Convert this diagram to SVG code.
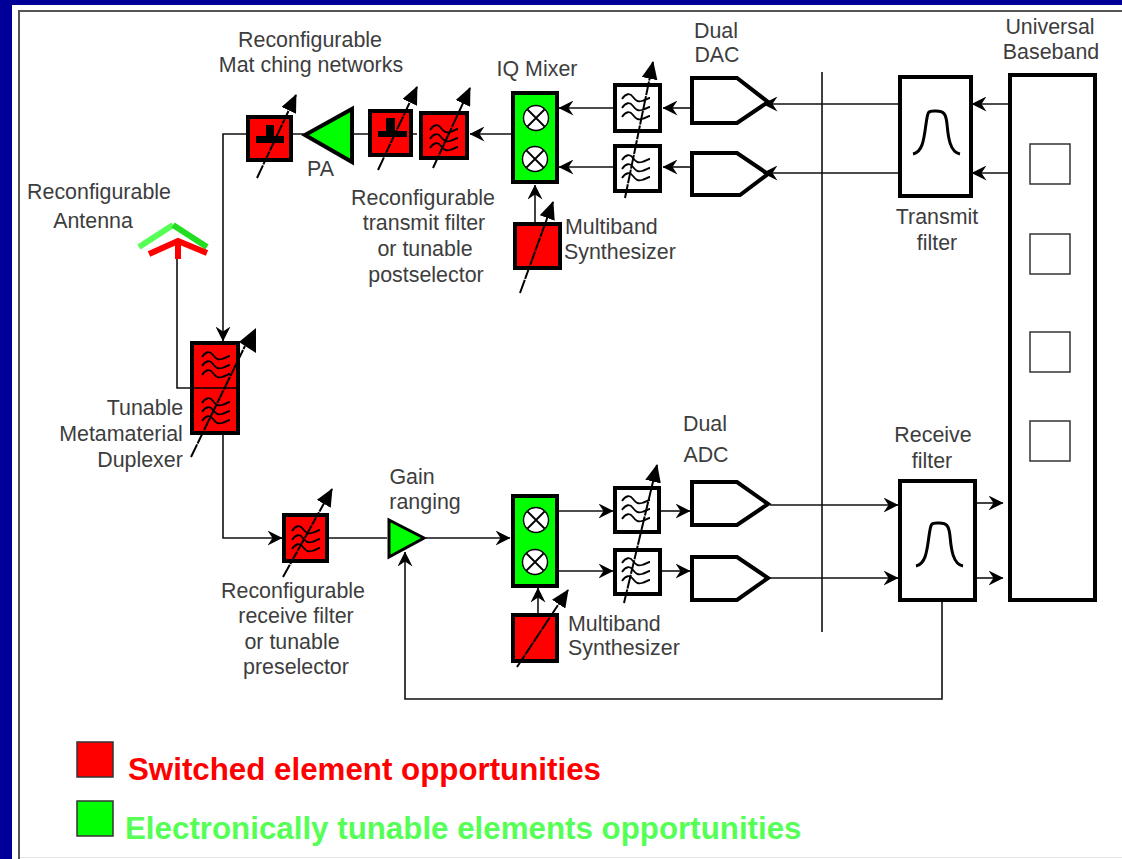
<svg xmlns="http://www.w3.org/2000/svg" width="1122" height="859" viewBox="0 0 1122 859">
<style>
text{font-family:"Liberation Sans",Arial,sans-serif;font-size:21.400px;fill:#3d3d3d}
.c{text-anchor:middle}
.w{fill:#fff;stroke:#000;stroke-width:4}
.r{fill:#f00;stroke:#000;stroke-width:4}
.g{fill:#0f0;stroke:#000;stroke-width:4}
.l{fill:none;stroke:#111;stroke-width:1.600}
.t{fill:none;stroke:#000;stroke-width:2;stroke-dasharray:14 1}
.f{fill:none;stroke:#000;stroke-width:1.800}
.m{fill:#fff;stroke:#000;stroke-width:1.400}
.leg{font-size:31.300px;font-weight:bold}
</style>
<defs>
<marker id="a" viewBox="0 0 15 15" refX="14.500" refY="7.500" markerWidth="15" markerHeight="15" markerUnits="userSpaceOnUse" orient="auto"><path d="M0 0L15 7.500L0 15L5 7.500Z" fill="#000"/></marker>
<marker id="b" viewBox="0 0 18 16" refX="17" refY="8" markerWidth="18" markerHeight="16" markerUnits="userSpaceOnUse" orient="auto"><path d="M0 0L18 8L0 16Z" fill="#000"/></marker>
<g id="ripple"><path class="f" d="M-14-7C-10-13-6-13-3-9S2-4 6-5 12-8 14-8M-14 2C-10-4-6-4-3 0S2 5 6 4 12 1 14 1M-14 11C-10 5-6 5-3 9S2 14 6 13 12 10 14 10"/></g>
<g id="mix"><circle r="12.500" class="m"/><path d="M-8.500-8.500L8.500 8.500M8.500-8.500L-8.500 8.500" stroke="#000" stroke-width="1.800"/></g>
<path id="bump" d="M-23 22C-13 20-12 6-10-8S-8-21 0-21 10-18 11-8 13 20 24 22" fill="none" stroke="#000" stroke-width="3"/>
</defs>
<rect width="1122" height="859" fill="#000099"/>
<rect x="12" y="5" width="1110" height="854" fill="#fff"/>
<path d="M19 859V11H1122" fill="none" stroke="#555" stroke-width="2"/>
<path d="M20 857.500H1122" fill="none" stroke="#e4e4e4" stroke-width="1"/>

<g id="antenna"><path d="M139 247L173 225" fill="none" stroke="#5f5" stroke-width="6"/><path d="M173 225L207 247" fill="none" stroke="#2d2" stroke-width="6"/><path d="M149 254L178 241L207 253" fill="none" stroke="#f00" stroke-width="6"/><path d="M178 241V259" stroke="#f00" stroke-width="6"/></g>

<g id="match1"><rect class="r" x="248" y="117" width="43" height="43"/><path d="M266 125H274V136H284V143H256V136H266Z" fill="#000"/><path class="t" d="M257 178L296 95" marker-end="url(#b)"/></g>
<g id="pa"><path class="g" d="M305 135L352 109V162Z"/></g>
<g id="match2"><rect class="r" x="370" y="111" width="41" height="44"/><path d="M386 118H395V131H407V137H378V131H386Z" fill="#000"/><path class="t" d="M378 170L417 87" marker-end="url(#b)"/></g>
<g id="txfilter"><rect class="r" x="421" y="113" width="46" height="45"/><use href="#ripple" x="444" y="137"/><path class="t" d="M433 168L470 88" marker-end="url(#b)"/></g>
<g id="iqtx"><rect class="g" x="513" y="93" width="44" height="89"/><use href="#mix" x="536" y="118"/><use href="#mix" x="535" y="159"/></g>
<g id="bbf1"><rect class="w" x="615" y="85" width="45" height="46"/><use href="#ripple" x="636" y="106"/></g>
<g id="bbf2"><rect class="w" x="615" y="146" width="45" height="45"/><use href="#ripple" x="636" y="167"/></g>
<path class="t" d="M625 198L653 62" marker-end="url(#b)"/>
<g id="dac1"><path class="w" d="M692 78H737L768 102L737 123H692Z"/></g>
<g id="dac2"><path class="w" d="M692 153H737L768 174L740 195H692Z"/></g>
<g id="synthtx"><rect class="r" x="515" y="224" width="45" height="44"/><path class="t" d="M520 293L553 202" marker-end="url(#b)"/></g>
<g id="txbp"><rect class="w" x="900" y="77" width="71" height="119"/><use href="#bump" x="936" y="132"/></g>
<g id="baseband"><rect class="w" x="1010" y="75" width="85" height="525"/>
<rect x="1030" y="144" width="40" height="40" fill="#fff" stroke="#333" stroke-width="1.500"/>
<rect x="1030" y="234" width="40" height="40" fill="#fff" stroke="#333" stroke-width="1.500"/>
<rect x="1030" y="332" width="40" height="40" fill="#fff" stroke="#333" stroke-width="1.500"/>
<rect x="1030" y="421" width="40" height="40" fill="#fff" stroke="#333" stroke-width="1.500"/></g>
<g id="duplexer"><rect class="r" x="192" y="343" width="46" height="90"/><path d="M192 388H238" stroke="#000" stroke-width="1.500"/><use href="#ripple" x="216" y="364"/><use href="#ripple" x="216" y="410"/><path class="t" d="M191 457L245 346"/><path d="M256 328V353L239 342Z" fill="#000"/></g>
<g id="rxfilter"><rect class="r" x="284" y="515" width="43" height="46"/><use href="#ripple" x="306" y="538"/><path class="t" d="M283 577L332 489" marker-end="url(#b)"/></g>
<g id="lna"><path d="M389 520L424 538L389 557Z" fill="#0f0" stroke="#000" stroke-width="3"/></g>
<g id="iqrx"><rect class="g" x="513" y="496" width="44" height="90"/><use href="#mix" x="536" y="520"/><use href="#mix" x="535" y="562"/></g>
<g id="adcf1"><rect class="w" x="615" y="488" width="44" height="44"/><use href="#ripple" x="636" y="508"/></g>
<g id="adcf2"><rect class="w" x="615" y="550" width="45" height="44"/><use href="#ripple" x="636" y="570"/></g>
<path class="t" d="M624 603L657 465" marker-end="url(#b)"/>
<g id="adc1"><path class="w" d="M692 482H737L768 504L737 525H692Z"/></g>
<g id="adc2"><path class="w" d="M692 557H737L768 578L737 600H692Z"/></g>
<g id="synthrx"><rect class="r" x="513" y="615" width="44" height="46"/><path class="t" d="M517 667L568 590" marker-end="url(#b)"/></g>
<g id="rxbp"><rect class="w" x="900" y="481" width="75" height="119"/><use href="#bump" x="939" y="544"/></g>

<g id="connectors">
<path class="l" d="M246 134H223V341" marker-end="url(#a)"/>
<path class="l" d="M177 259V388H192"/>
<path class="l" d="M223 435V538H282" marker-end="url(#a)"/>
<path class="l" d="M329 538H387"/><path class="l" d="M426 538H510" marker-end="url(#a)"/>
<path class="l" d="M293 134H304M353 134H368M413 134H417"/>
<path class="l" d="M511 134H470" marker-end="url(#a)"/>
<path class="l" d="M613 108H559" marker-end="url(#a)"/>
<path class="l" d="M613 167H559" marker-end="url(#a)"/>
<path class="l" d="M690 108H663" marker-end="url(#a)"/>
<path class="l" d="M690 167H663" marker-end="url(#a)"/>
<path class="l" d="M898 104H763" marker-end="url(#a)"/>
<path class="l" d="M898 173H763" marker-end="url(#a)"/>
<path class="l" d="M1008 104H972" marker-end="url(#a)"/>
<path class="l" d="M1008 173H972" marker-end="url(#a)"/>
<path class="l" d="M535 222V185" marker-end="url(#a)"/>
<path class="l" d="M559 511H613" marker-end="url(#a)"/>
<path class="l" d="M559 571H613" marker-end="url(#a)"/>
<path class="l" d="M661 511H690" marker-end="url(#a)"/>
<path class="l" d="M662 571H690" marker-end="url(#a)"/>
<path class="l" d="M770 505H898" marker-end="url(#a)"/>
<path class="l" d="M770 578H898" marker-end="url(#a)"/>
<path class="l" d="M977 503H1003" marker-end="url(#a)"/>
<path class="l" d="M977 578H1003" marker-end="url(#a)"/>
<path class="l" d="M538 613V588" marker-end="url(#a)"/>
<path class="l" d="M942 602V699H405V552" marker-end="url(#a)"/>
<path class="l" d="M822 72V632"/>
</g>

<g id="labels">
<text class="c" x="310" y="47">Reconfigurable</text>
<text class="c" x="311" y="72">Mat ching networks</text>
<text class="c" x="537" y="76">IQ Mixer</text>
<text class="c" x="716" y="38">Dual</text><text class="c" x="717" y="62">DAC</text>
<text class="c" x="1050" y="34">Universal</text><text class="c" x="1051" y="59">Baseband</text>
<text class="c" x="99" y="199">Reconfigurable</text><text class="c" x="93" y="228">Antenna</text>
<text x="307" y="176">PA</text>
<text class="c" x="423" y="205">Reconfigurable</text><text class="c" x="424" y="230">transmit filter</text><text class="c" x="425" y="256">or tunable</text><text class="c" x="426" y="282">postselector</text>
<text x="565" y="234">Multiband</text><text x="564" y="259">Synthesizer</text>
<text class="c" x="937" y="224">Transmit</text><text class="c" x="937" y="250">filter</text>
<text class="c" x="145" y="415">Tunable</text><text class="c" x="121" y="441">Metamaterial</text><text class="c" x="140" y="467">Duplexer</text>
<text class="c" x="412" y="484">Gain</text><text class="c" x="425" y="509">ranging</text>
<text class="c" x="705" y="431">Dual</text><text class="c" x="706" y="462">ADC</text>
<text class="c" x="933" y="442">Receive</text><text class="c" x="932" y="468">filter</text>
<text class="c" x="293" y="598">Reconfigurable</text><text class="c" x="296" y="623">receive filter</text><text class="c" x="292" y="649">or tunable</text><text class="c" x="296" y="674">preselector</text>
<text x="568" y="631">Multiband</text><text x="568" y="655">Synthesizer</text>
</g>
<g id="legend">
<rect x="77" y="742" width="36" height="35" fill="#f00" stroke="#333" stroke-width="1.500"/>
<rect x="77" y="801" width="36" height="35" fill="#0f0" stroke="#333" stroke-width="1.500"/>
<text class="leg" x="128" y="780" style="fill:#f00">Switched element opportunities</text>
<text class="leg" x="125" y="839" style="fill:#5f5">Electronically tunable elements opportunities</text>
</g>
</svg>
